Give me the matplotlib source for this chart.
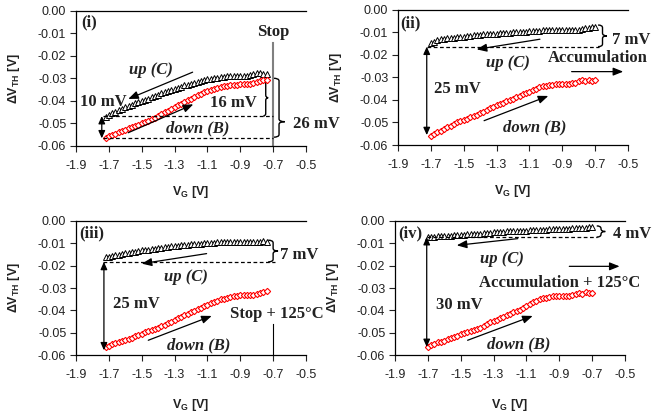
import matplotlib
matplotlib.use('Agg')
import matplotlib.pyplot as plt
from matplotlib.path import Path
from matplotlib.patches import PathPatch

plt.rcParams['font.family'] = 'Liberation Sans'
plt.rcParams['mathtext.fontset'] = 'custom'
plt.rcParams['mathtext.rm'] = 'Liberation Sans:bold'
plt.rcParams['mathtext.it'] = 'Liberation Sans:bold'
plt.rcParams['mathtext.bf'] = 'Liberation Sans:bold'

# gate voltage sweeps
vg_a = [-1.72, -1.70, -1.68, -1.66, -1.64, -1.62, -1.60, -1.58, -1.56, -1.54,
        -1.52, -1.50, -1.48, -1.46, -1.44, -1.42, -1.40, -1.38, -1.36, -1.34,
        -1.32, -1.30, -1.28, -1.26, -1.24, -1.22, -1.20, -1.18, -1.16, -1.14,
        -1.12, -1.10, -1.08, -1.06, -1.04, -1.02, -1.00, -0.98, -0.96, -0.94,
        -0.92, -0.90, -0.88, -0.86, -0.84, -0.82, -0.80, -0.78, -0.76, -0.74]
vg_b = [-1.70, -1.68, -1.66, -1.64, -1.62, -1.60, -1.58, -1.56, -1.54, -1.52,
        -1.50, -1.48, -1.46, -1.44, -1.42, -1.40, -1.38, -1.36, -1.34, -1.32,
        -1.30, -1.28, -1.26, -1.24, -1.22, -1.20, -1.18, -1.16, -1.14, -1.12,
        -1.10, -1.08, -1.06, -1.04, -1.02, -1.00, -0.98, -0.96, -0.94, -0.92,
        -0.90, -0.88, -0.86, -0.84, -0.82, -0.80, -0.78, -0.76, -0.74, -0.72, -0.70]

# (i) Stop
down_i = [-0.0563, -0.0557, -0.0550, -0.0546, -0.0538, -0.0533, -0.0528, -0.0521, -0.0517, -0.0510,
          -0.0505, -0.0499, -0.0493, -0.0488, -0.0481, -0.0474, -0.0466, -0.0458, -0.0451, -0.0443,
          -0.0436, -0.0428, -0.0420, -0.0413, -0.0405, -0.0397, -0.0390, -0.0382, -0.0375, -0.0368,
          -0.0362, -0.0357, -0.0352, -0.0347, -0.0342, -0.0338, -0.0335, -0.0332, -0.0330, -0.0328,
          -0.0327, -0.0326, -0.0325, -0.0326, -0.0324, -0.0320, -0.0316, -0.0312, -0.0309, -0.0305]
up_i = [-0.0470, -0.0463, -0.0455, -0.0448, -0.0440, -0.0434, -0.0428, -0.0422, -0.0417, -0.0411,
        -0.0405, -0.0400, -0.0395, -0.0390, -0.0384, -0.0378, -0.0372, -0.0366, -0.0361, -0.0356,
        -0.0351, -0.0346, -0.0341, -0.0336, -0.0331, -0.0327, -0.0323, -0.0319, -0.0315, -0.0311,
        -0.0307, -0.0304, -0.0301, -0.0298, -0.0296, -0.0294, -0.0292, -0.0291, -0.0290, -0.0289,
        -0.0289, -0.0290, -0.0290, -0.0289, -0.0286, -0.0282, -0.0277, -0.0275, -0.0279, -0.0281]

# (ii) Accumulation
down_ii = [-0.0558, -0.0549, -0.0541, -0.0536, -0.0530, -0.0522, -0.0515, -0.0508, -0.0500, -0.0494,
           -0.0489, -0.0483, -0.0477, -0.0471, -0.0465, -0.0458, -0.0452, -0.0445, -0.0436, -0.0430,
           -0.0424, -0.0418, -0.0412, -0.0406, -0.0400, -0.0394, -0.0388, -0.0381, -0.0374, -0.0368,
           -0.0363, -0.0355, -0.0349, -0.0344, -0.0340, -0.0337, -0.0335, -0.0333, -0.0331, -0.0330,
           -0.0329, -0.0329, -0.0328, -0.0326, -0.0323, -0.0317, -0.0311, -0.0315, -0.0310, -0.0314, -0.0311]
up_ii = [-0.0148, -0.0141, -0.0135, -0.0131, -0.0128, -0.0126, -0.0125, -0.0123, -0.0121, -0.0119,
         -0.0118, -0.0116, -0.0115, -0.0113, -0.0112, -0.0111, -0.0109, -0.0108, -0.0107, -0.0106,
         -0.0105, -0.0104, -0.0103, -0.0102, -0.0101, -0.0100, -0.0099, -0.0098, -0.0097, -0.0096,
         -0.0095, -0.0094, -0.0093, -0.0092, -0.0091, -0.0091, -0.0090, -0.0090, -0.0090, -0.0090,
         -0.0090, -0.0090, -0.0089, -0.0089, -0.0088, -0.0087, -0.0084, -0.0079, -0.0081, -0.0077, -0.0076]

# (iii) Stop + 125C
down_iii = [-0.0566, -0.0560, -0.0552, -0.0545, -0.0541, -0.0537, -0.0533, -0.0528, -0.0522, -0.0516,
            -0.0510, -0.0504, -0.0498, -0.0493, -0.0488, -0.0483, -0.0478, -0.0472, -0.0465, -0.0458,
            -0.0450, -0.0443, -0.0436, -0.0429, -0.0422, -0.0415, -0.0409, -0.0402, -0.0395, -0.0389,
            -0.0382, -0.0374, -0.0367, -0.0361, -0.0356, -0.0351, -0.0347, -0.0343, -0.0340, -0.0337,
            -0.0335, -0.0333, -0.0333, -0.0333, -0.0333, -0.0330, -0.0326, -0.0322, -0.0320, -0.0315]
up_iii = [-0.0162, -0.0159, -0.0156, -0.0153, -0.0150, -0.0147, -0.0144, -0.0142, -0.0140, -0.0137,
          -0.0135, -0.0132, -0.0130, -0.0128, -0.0126, -0.0124, -0.0122, -0.0120, -0.0118, -0.0116,
          -0.0114, -0.0112, -0.0111, -0.0109, -0.0108, -0.0106, -0.0105, -0.0103, -0.0102, -0.0101,
          -0.0100, -0.0099, -0.0098, -0.0097, -0.0096, -0.0095, -0.0095, -0.0094, -0.0094, -0.0094,
          -0.0094, -0.0094, -0.0095, -0.0095, -0.0094, -0.0094, -0.0093, -0.0092, -0.0090, -0.0094]

# (iv) Accumulation + 125C
down_iv = [-0.0563, -0.0556, -0.0549, -0.0543, -0.0540, -0.0538, -0.0530, -0.0524, -0.0518, -0.0513,
           -0.0508, -0.0503, -0.0498, -0.0493, -0.0488, -0.0484, -0.0479, -0.0468, -0.0460, -0.0454,
           -0.0448, -0.0442, -0.0436, -0.0429, -0.0422, -0.0415, -0.0409, -0.0403, -0.0397, -0.0390,
           -0.0381, -0.0370, -0.0362, -0.0356, -0.0350, -0.0346, -0.0343, -0.0340, -0.0338, -0.0336,
           -0.0335, -0.0334, -0.0334, -0.0335, -0.0331, -0.0326, -0.0321, -0.0326, -0.0318, -0.0322, -0.0321]
up_iv = [-0.0073, -0.0071, -0.0070, -0.0069, -0.0068, -0.0067, -0.0066, -0.0065, -0.0064, -0.0063,
         -0.0062, -0.0061, -0.0060, -0.0059, -0.0058, -0.0057, -0.0056, -0.0055, -0.0054, -0.0053,
         -0.0051, -0.0050, -0.0049, -0.0048, -0.0047, -0.0046, -0.0046, -0.0045, -0.0044, -0.0043,
         -0.0043, -0.0042, -0.0041, -0.0041, -0.0040, -0.0039, -0.0039, -0.0038, -0.0037, -0.0037,
         -0.0036, -0.0035, -0.0035, -0.0034, -0.0033, -0.0032, -0.0031, -0.0031, -0.0030, -0.0029, -0.0027]

x_ticks = [-1.9, -1.7, -1.5, -1.3, -1.1, -0.9, -0.7, -0.5]
x_ticklabels = ['-1.9', '-1.7', '-1.5', '-1.3', '-1.1', '-0.9', '-0.7', '-0.5']
y_ticks = [0.0, -0.01, -0.02, -0.03, -0.04, -0.05, -0.06]
y_ticklabels = ['0.00', '-0.01', '-0.02', '-0.03', '-0.04', '-0.05', '-0.06']

TXT = '#222222'
serif = dict(family='Liberation Serif', fontweight='bold', fontsize=12, color=TXT)


def setup(ax, xlab_y):
    ax.set_xlim(-1.9, -0.5)
    ax.set_ylim(-0.06, 0)
    ax.set_xticks(x_ticks)
    ax.set_xticklabels(x_ticklabels)
    ax.set_yticks(y_ticks)
    ax.set_yticklabels(y_ticklabels)
    ax.spines['right'].set_visible(False)
    for s in ['left', 'bottom', 'top']:
        ax.spines[s].set_linewidth(0.9)
    ax.tick_params(axis='x', direction='out', length=4, width=0.8, labelsize=9, pad=6, colors=TXT)
    ax.tick_params(axis='y', direction='out', length=4, width=0.8, labelsize=9, pad=3, colors=TXT)
    ax.set_xlabel(r'V$_\mathrm{G}$ [V]', fontsize=9, fontweight='bold', color=TXT)
    ax.xaxis.set_label_coords(0.5, xlab_y)
    ax.set_ylabel(r'ΔV$_\mathrm{TH}$ [V]', fontsize=9, fontweight='bold', color=TXT)
    ax.yaxis.set_label_coords(-0.235, 0.5)


def series(ax, vg_up, up, vg_down, down):
    ax.plot(vg_up, up, linestyle='none', marker='^', ms=4.2, mfc='white',
            mec='black', mew=0.7, clip_on=False)
    ax.plot(vg_down, down, linestyle='none', marker='D', ms=3.2, mfc='white',
            mec='red', mew=0.8, clip_on=False)


def arrow(ax, start, end, both=False):
    if both:
        style = '<|-|>,head_length=0.45,head_width=0.2'
        ms = 10
    else:
        style = '-|>,head_length=0.5,head_width=0.2'
        ms = 12
    ax.annotate('', xy=end, xytext=start,
                arrowprops=dict(arrowstyle=style, color='black', lw=0.9,
                                shrinkA=0, shrinkB=0, mutation_scale=ms),
                annotation_clip=False)


def dashed(ax, x0, x1, y):
    ax.plot([x0, x1], [y, y], color='black', lw=0.9, dashes=(3, 2), clip_on=False)


def brace(ax, x, ytop, ybot, w, ymid=None):
    if ymid is None:
        ymid = (ytop + ybot) / 2
    q = 0.0012
    xm = x + w / 2
    verts = [(x, ytop), (xm, ytop), (xm, ytop - q), (xm, ymid + q),
             (xm, ymid), (x + w, ymid), (xm, ymid), (xm, ymid - q),
             (xm, ybot + q), (xm, ybot), (x, ybot)]
    codes = [Path.MOVETO, Path.CURVE3, Path.CURVE3, Path.LINETO,
             Path.CURVE3, Path.CURVE3, Path.CURVE3, Path.CURVE3,
             Path.LINETO, Path.CURVE3, Path.CURVE3]
    ax.add_patch(PathPatch(Path(verts, codes), fill=False, lw=1.0,
                           color='black', clip_on=False))


def label(ax, x, y, s, italic=False, ha='center'):
    ax.text(x, y, s, ha=ha, va='center', style='italic' if italic else 'normal',
            **serif)


fig = plt.figure(figsize=(6.62, 4.13), dpi=100)
ax1 = fig.add_axes([0.1148, 0.6465, 0.3474, 0.327])
ax2 = fig.add_axes([0.6012, 0.6489, 0.3474, 0.327])
ax3 = fig.add_axes([0.1148, 0.1404, 0.3474, 0.3245])
ax4 = fig.add_axes([0.5967, 0.1404, 0.3474, 0.3245])

# ---- (i)
setup(ax1, -0.285)
series(ax1, vg_a, up_i, vg_a, down_i)
label(ax1, -1.87, -0.0053, '(i)', ha='left')
ax1.plot([-0.7, -0.7], [-0.0143, -0.06], color='#808080', lw=1.5)
label(ax1, -0.70, -0.0093, 'Stop')
label(ax1, -1.443, -0.0262, 'up (C)', italic=True)
arrow(ax1, (-1.19, -0.0272), (-1.582, -0.0391))
label(ax1, -1.735, -0.0403, '10 mV')
dashed(ax1, -1.736, -0.70, -0.0467)
dashed(ax1, -1.736, -0.70, -0.0566)
arrow(ax1, (-1.743, -0.0467), (-1.743, -0.0566), both=True)
label(ax1, -0.944, -0.0410, '16 mV')
brace(ax1, -0.76, -0.0304, -0.0467, 0.03)
brace(ax1, -0.699, -0.0299, -0.0561, 0.07, ymid=-0.0492)
label(ax1, -0.579, -0.0502, '26 mV', ha='left')
arrow(ax1, (-1.582, -0.0541), (-1.186, -0.0415))
label(ax1, -1.157, -0.0520, 'down (B)', italic=True)

# ---- (ii)
setup(ax2, -0.285)
series(ax2, vg_b, up_ii, vg_b, down_ii)
label(ax2, -1.888, -0.0058, '(ii)', ha='left')
dashed(ax2, -1.725, -0.675, -0.0163)
brace(ax2, -0.682, -0.0067, -0.0163, 0.054)
label(ax2, -0.60, -0.0133, '7 mV', ha='left')
arrow(ax2, (-1.036, -0.0130), (-1.421, -0.0175))
label(ax2, -1.233, -0.0237, 'up (C)', italic=True)
label(ax2, -0.683, -0.0215, 'Accumulation')
arrow(ax2, (-0.843, -0.0274), (-0.529, -0.0274))
label(ax2, -1.538, -0.0353, '25 mV')
arrow(ax2, (-1.725, -0.0163), (-1.725, -0.0556), both=True)
arrow(ax2, (-1.376, -0.0492), (-0.985, -0.0382))
label(ax2, -1.066, -0.0523, 'down (B)', italic=True)

# ---- (iii)
setup(ax3, -0.31)
series(ax3, vg_a, up_iii, vg_a, down_iii)
label(ax3, -1.88, -0.0056, '(iii)', ha='left')
dashed(ax3, -1.734, -0.689, -0.0183)
brace(ax3, -0.73, -0.0086, -0.0183, 0.06)
label(ax3, -0.658, -0.0154, '7 mV', ha='left')
arrow(ax3, (-1.105, -0.0146), (-1.50, -0.0191))
label(ax3, -1.232, -0.0251, 'up (C)', italic=True)
label(ax3, -1.53, -0.0370, '25 mV')
arrow(ax3, (-1.73, -0.0183), (-1.73, -0.0579), both=True)
arrow(ax3, (-1.46, -0.0534), (-1.074, -0.0425))
label(ax3, -1.156, -0.0557, 'down (B)', italic=True)
label(ax3, -0.679, -0.0415, 'Stop + 125°C')
ax3.plot([-0.703, -0.703], [-0.046, -0.06], color='black', lw=0.8)

# ---- (iv)
setup(ax4, -0.31)
series(ax4, vg_b, up_iv, vg_b, down_iv)
label(ax4, -1.882, -0.0056, '(iv)', ha='left')
dashed(ax4, -1.707, -0.672, -0.0072)
brace(ax4, -0.672, -0.0022, -0.0072, 0.052)
label(ax4, -0.576, -0.0057, '4 mV', ha='left')
arrow(ax4, (-1.153, -0.0079), (-1.524, -0.0109))
label(ax4, -1.25, -0.0168, 'up (C)', italic=True)
arrow(ax4, (-0.839, -0.0203), (-0.533, -0.0203))
label(ax4, -0.90, -0.0276, 'Accumulation + 125°C')
label(ax4, -1.509, -0.0378, '30 mV')
arrow(ax4, (-1.707, -0.0072), (-1.707, -0.0564), both=True)
arrow(ax4, (-1.458, -0.0534), (-1.062, -0.0425))
label(ax4, -1.147, -0.0553, 'down (B)', italic=True)

fig.savefig('out.png', dpi=100)
